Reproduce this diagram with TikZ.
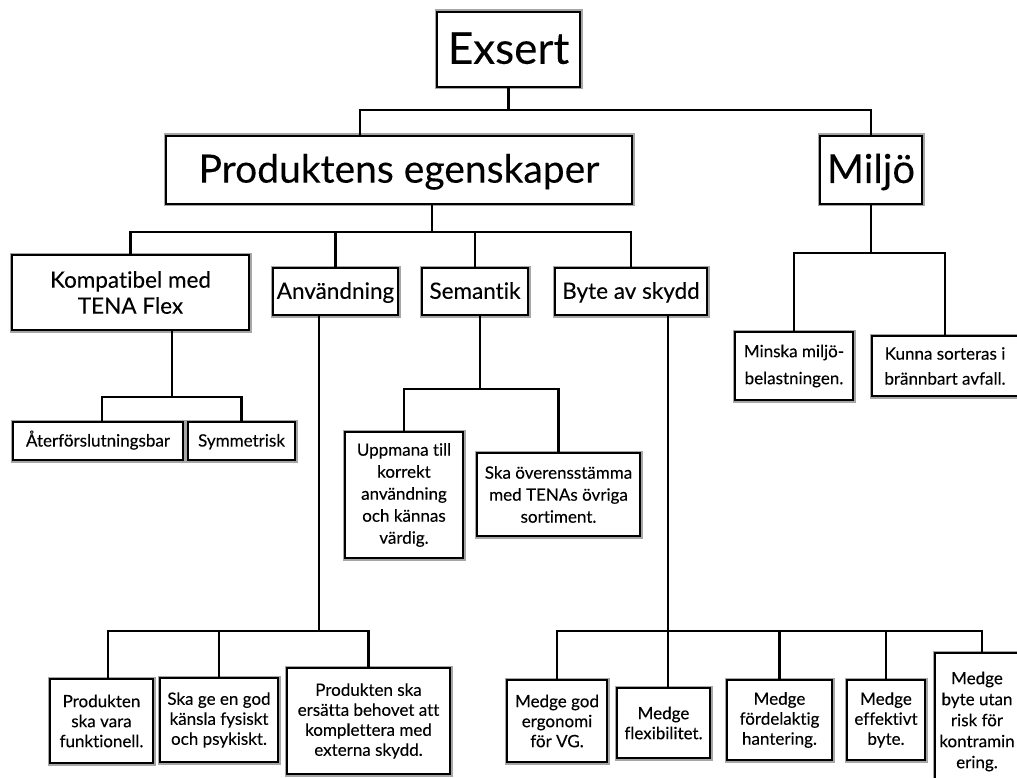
\documentclass[tikz,border=0pt]{standalone}
\usepackage{fontspec}
\setmainfont{Lato}[Ligatures={NoCommon},FakeBold=0.15]
\newcommand\lstrut{\rule[-0.3em]{0pt}{1.25em}}
\begin{document}
\begin{tikzpicture}[x=1pt,y=-1pt,
  box/.style={draw=black, line width=2.8pt, fill=white, inner sep=0pt, align=center,
              preaction={draw=black!35, line width=5pt}},
  conn/.style={draw=black, line width=2.6pt},
  fhuge/.style={font=\fontsize{44}{50}\selectfont},
  fbig/.style={font=\fontsize{39}{45}\selectfont},
  fmid/.style={font=\fontsize{22.5}{26}\selectfont},
  fsm/.style={font=\fontsize{17}{20}\selectfont},
  fsmb/.style={font=\fontsize{17}{22}\selectfont}
]
\useasboundingbox (0,0) rectangle (1017,778);

% level 0
\node[box, fhuge, minimum width=143, minimum height=75] (exsert) at (508.5,49.5) {\lstrut Exsert};
% level 1
\node[box, fbig, minimum width=466, minimum height=68] (prod) at (399,170) {\lstrut Produktens egenskaper};
\node[box, font=\fontsize{40}{46}\selectfont, minimum width=102, minimum height=68] (miljo) at (871,170) {\lstrut Miljö};
% level 2
\node[box, fmid, minimum width=237, minimum height=75] (komp) at (130.5,292.5) {Kompatibel med\\TENA Flex};
\node[box, fmid, minimum width=125, minimum height=47] (anv) at (335.5,291.5) {\lstrut Användning};
\node[box, fmid, minimum width=106, minimum height=47] (sem) at (475,291.5) {\lstrut Semantik};
\node[box, fmid, minimum width=152, minimum height=47] (byte) at (631,291.5) {\lstrut Byte av skydd};
\node[box, font=\fontsize{17}{27}\selectfont, minimum width=118, minimum height=68] (minska) at (794,366) {Minska miljö-\\belastningen.};
\node[box, font=\fontsize{17}{25}\selectfont, minimum width=146, minimum height=60] (kunna) at (945,366) {Kunna sorteras i\\brännbart avfall.};
% level 3
\node[box, fsm, minimum width=170, minimum height=38] (ater) at (98,441) {\lstrut Återförslutningsbar};
\node[box, fsm, minimum width=107, minimum height=38] (sym) at (241.5,441) {\lstrut Symmetrisk};
\node[box, fsmb, minimum width=118, minimum height=126] (upp) at (404,495) {Uppmana till\\korrekt\\användning\\och kännas\\värdig.};
\node[box, fsmb, minimum width=163, minimum height=83] (ska) at (558.5,494.5) {Ska överensstämma\\med TENAs övriga\\sortiment.};
% bottom left
\node[box, fsm, minimum width=103, minimum height=84] (pv) at (101.5,721) {Produkten\\ska vara\\funktionell.};
\node[box, fsm, minimum width=118, minimum height=84] (sg) at (219,720) {Ska ge en god\\känsla fysiskt\\och psykiskt.};
\node[box, fsm, minimum width=163, minimum height=106] (pe) at (368.5,721) {Produkten ska\\ersätta behovet att\\komplettera med\\externa skydd.};
% bottom right
\node[box, fsm, minimum width=100, minimum height=82] (mg) at (557,721) {Medge god\\ergonomi\\för VG.};
\node[box, fsm, minimum width=93, minimum height=70] (mf) at (663.5,723) {Medge\\flexibilitet.};
\node[box, fsm, minimum width=105, minimum height=80] (mfo) at (779.5,720) {Medge\\fördelaktig\\hantering.};
\node[box, fsm, minimum width=78, minimum height=80] (me) at (886,720) {Medge\\effektivt\\byte.};
\node[box, font=\fontsize{17}{21}\selectfont, minimum width=84, minimum height=137] (mb) at (977,721.5) {Medge\\byte utan\\risk för\\kontramin\\ering.};

% bus levels
\coordinate (y1) at (0,110);
\coordinate (y2) at (0,232);
\coordinate (y3) at (0,253);
\coordinate (y4) at (0,397);
\coordinate (y5) at (0,389);
\coordinate (y6) at (0,631);

% stems and drop points
\coordinate (prodtop) at ([xshift=-39]prod.north);
\coordinate (prodbot) at ([xshift=33]prod.south);
\coordinate (kompbot) at ([xshift=41.5]komp.south);
\coordinate (atertop) at ([xshift=4]ater.north);
\coordinate (sembot) at ([xshift=5]sem.south);
\coordinate (anvbot) at ([xshift=-16.5]anv.south);
\coordinate (pvtop) at ([xshift=6.5]pv.north);
\coordinate (bytebot) at ([xshift=37]byte.south);
\coordinate (mftop) at ([xshift=4.5]mf.north);
\coordinate (mbtop) at ([xshift=5]mb.north);

% Exsert
\draw[conn] (exsert.south) -- (exsert.south |- y1);
\draw[conn] (prodtop) |- (miljo.north |- y1) -- (miljo.north);
% Produktens egenskaper
\draw[conn] (prodbot) -- (prodbot |- y2);
\draw[conn] (komp.north) |- (byte.north |- y2) -- (byte.north);
\draw[conn] (anv.north) -- (anv.north |- y2);
\draw[conn] (sem.north) -- (sem.north |- y2);
% Miljo
\draw[conn] (miljo.south) -- (miljo.south |- y3);
\draw[conn] (minska.north) |- (kunna.north |- y3) -- (kunna.north);
% Kompatibel
\draw[conn] (kompbot) -- (kompbot |- y4);
\draw[conn] (atertop) |- (sym.north |- y4) -- (sym.north);
% Semantik
\draw[conn] (sembot) -- (sembot |- y5);
\draw[conn] (upp.north) |- (ska.north |- y5) -- (ska.north);
% Anvandning
\draw[conn] (anvbot) -- (anvbot |- y6);
\draw[conn] (pvtop) |- (pe.north |- y6) -- (pe.north);
\draw[conn] (sg.north) -- (sg.north |- y6);
% Byte av skydd
\draw[conn] (bytebot) -- (bytebot |- y6);
\draw[conn] (mg.north) |- (mbtop |- y6) -- (mbtop);
\draw[conn] (mftop) -- (mftop |- y6);
\draw[conn] (mfo.north) -- (mfo.north |- y6);
\draw[conn] (me.north) -- (me.north |- y6);
\end{tikzpicture}
\end{document}
